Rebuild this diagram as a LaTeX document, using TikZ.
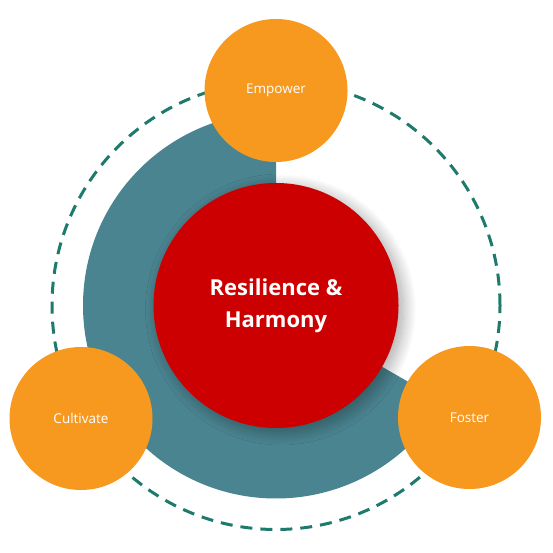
\documentclass[tikz,border=0pt]{standalone}
\usepackage{fontspec}
\setmainfont{Open Sans}
\usetikzlibrary{shadows.blur}
\definecolor{tealring}{HTML}{4A8490}
\definecolor{dashcol}{HTML}{1E7A6C}
\definecolor{orangec}{HTML}{F7981F}
\definecolor{redc}{HTML}{CC0000}
\tikzset{
  petal/.style={circle, fill=orangec, minimum size=143pt, inner sep=0pt, text=white, font=\fontsize{13.5}{16}\selectfont},
  hub/.style={circle, fill=redc, minimum size=245pt, inner sep=0pt, text=white, align=center,
    font=\fontsize{22}{32}\selectfont\bfseries,
    blur shadow={shadow xshift=5pt, shadow yshift=-4pt, shadow blur radius=13pt, shadow blur steps=20, shadow opacity=35}},
  orbit/.style={draw=dashcol, line width=3pt, dash pattern=on 12pt off 8pt}
}
\begin{document}
\begin{tikzpicture}[x=1pt,y=1pt]
\useasboundingbox (0,0) rectangle (553,553);
\coordinate (c) at (276,247.5);
\draw[orbit] (c) circle (224);
\fill[tealring] (c) -- ++(90:193) arc (90:330:193) -- cycle;
\node[hub] (hub) at (c) {Resilience \&\\Harmony};
\node[petal] (emp) at (276,462.5) {Empower};
\node[petal] (cul) at (81,134.5) {Cultivate};
\node[petal] (fos) at (469.5,135.5) {Foster};
\end{tikzpicture}
\end{document}
